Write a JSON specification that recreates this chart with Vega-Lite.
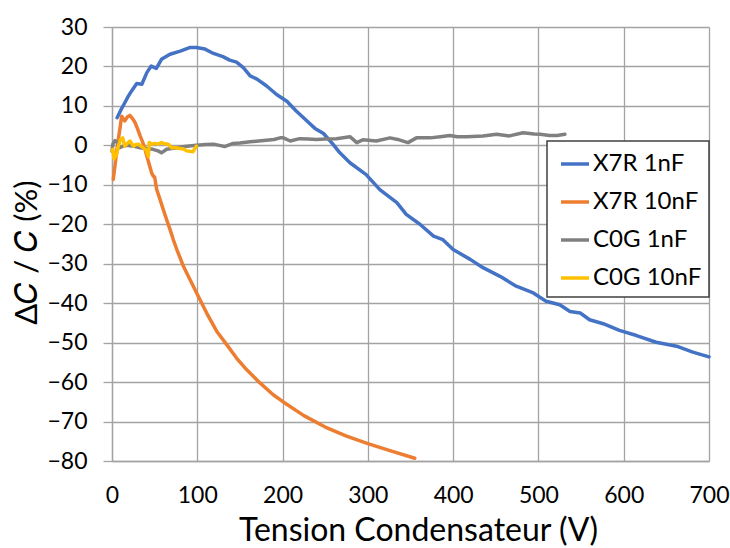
{
  "$schema": "https://vega.github.io/schema/vega-lite/v6.json",
  "width": 597,
  "height": 434,
  "autosize": {"type": "none"},
  "padding": {"left": 112, "top": 27, "right": 21, "bottom": 87},
  "background": "white",
  "config": {
    "font": "Lato",
    "view": {"stroke": null},
    "axis": {"labelColor": "#000", "titleColor": "#000", "titleFontWeight": "normal"}
  },
  "data": {"values": [
    {"s":"X7R 1nF","v":6,"d":7.0},{"s":"X7R 1nF","v":10,"d":8.8},{"s":"X7R 1nF","v":15,"d":10.8},{"s":"X7R 1nF","v":19,"d":12.4},{"s":"X7R 1nF","v":23,"d":13.8},{"s":"X7R 1nF","v":29,"d":15.7},{"s":"X7R 1nF","v":35,"d":15.5},{"s":"X7R 1nF","v":41,"d":18.5},{"s":"X7R 1nF","v":46,"d":20.1},{"s":"X7R 1nF","v":52,"d":19.5},{"s":"X7R 1nF","v":58,"d":21.8},{"s":"X7R 1nF","v":68,"d":23.1},{"s":"X7R 1nF","v":80,"d":23.9},{"s":"X7R 1nF","v":91,"d":24.8},{"s":"X7R 1nF","v":99,"d":24.8},{"s":"X7R 1nF","v":109,"d":24.4},{"s":"X7R 1nF","v":119,"d":23.3},{"s":"X7R 1nF","v":130,"d":22.5},{"s":"X7R 1nF","v":138,"d":21.6},{"s":"X7R 1nF","v":146,"d":21.1},{"s":"X7R 1nF","v":154,"d":19.7},{"s":"X7R 1nF","v":162,"d":17.6},{"s":"X7R 1nF","v":170,"d":16.8},{"s":"X7R 1nF","v":181,"d":15.1},{"s":"X7R 1nF","v":193,"d":12.9},{"s":"X7R 1nF","v":205,"d":11.2},{"s":"X7R 1nF","v":216,"d":8.7},{"s":"X7R 1nF","v":228,"d":6.3},{"s":"X7R 1nF","v":238,"d":4.3},{"s":"X7R 1nF","v":248,"d":3.0},{"s":"X7R 1nF","v":259,"d":0.3},{"s":"X7R 1nF","v":266,"d":-1.6},{"s":"X7R 1nF","v":279,"d":-4.4},{"s":"X7R 1nF","v":298,"d":-7.4},{"s":"X7R 1nF","v":314,"d":-11.2},{"s":"X7R 1nF","v":334,"d":-14.5},{"s":"X7R 1nF","v":345,"d":-17.5},{"s":"X7R 1nF","v":361,"d":-20.0},{"s":"X7R 1nF","v":377,"d":-23.0},{"s":"X7R 1nF","v":388,"d":-23.9},{"s":"X7R 1nF","v":400,"d":-26.4},{"s":"X7R 1nF","v":420,"d":-28.9},{"s":"X7R 1nF","v":435,"d":-31.0},{"s":"X7R 1nF","v":455,"d":-33.2},{"s":"X7R 1nF","v":474,"d":-35.7},{"s":"X7R 1nF","v":494,"d":-37.4},{"s":"X7R 1nF","v":509,"d":-39.5},{"s":"X7R 1nF","v":525,"d":-40.4},{"s":"X7R 1nF","v":537,"d":-42.1},{"s":"X7R 1nF","v":549,"d":-42.5},{"s":"X7R 1nF","v":560,"d":-44.2},{"s":"X7R 1nF","v":576,"d":-45.2},{"s":"X7R 1nF","v":595,"d":-46.9},{"s":"X7R 1nF","v":615,"d":-48.2},{"s":"X7R 1nF","v":638,"d":-49.9},{"s":"X7R 1nF","v":662,"d":-50.9},{"s":"X7R 1nF","v":681,"d":-52.4},{"s":"X7R 1nF","v":700,"d":-53.6},
    {"s":"X7R 10nF","v":1.5,"d":-8.6},{"s":"X7R 10nF","v":3.5,"d":-5.2},{"s":"X7R 10nF","v":5.5,"d":-1.5},{"s":"X7R 10nF","v":7.4,"d":1.5},{"s":"X7R 10nF","v":9.5,"d":4.5},{"s":"X7R 10nF","v":11.3,"d":7.4},{"s":"X7R 10nF","v":13,"d":6.8},{"s":"X7R 10nF","v":15,"d":6.2},{"s":"X7R 10nF","v":18,"d":7.2},{"s":"X7R 10nF","v":21,"d":7.6},{"s":"X7R 10nF","v":24,"d":6.8},{"s":"X7R 10nF","v":27,"d":5.8},{"s":"X7R 10nF","v":30,"d":4.2},{"s":"X7R 10nF","v":33,"d":2.4},{"s":"X7R 10nF","v":36,"d":0.8},{"s":"X7R 10nF","v":38.7,"d":-1.0},{"s":"X7R 10nF","v":41,"d":-2.8},{"s":"X7R 10nF","v":44.5,"d":-5.5},{"s":"X7R 10nF","v":46.5,"d":-7.0},{"s":"X7R 10nF","v":48.4,"d":-7.8},{"s":"X7R 10nF","v":50,"d":-8.0},{"s":"X7R 10nF","v":52.4,"d":-11.2},{"s":"X7R 10nF","v":56,"d":-13.5},{"s":"X7R 10nF","v":60,"d":-16.2},{"s":"X7R 10nF","v":64,"d":-18.8},{"s":"X7R 10nF","v":68,"d":-21.3},{"s":"X7R 10nF","v":72,"d":-24.0},{"s":"X7R 10nF","v":76,"d":-26.4},{"s":"X7R 10nF","v":80,"d":-28.6},{"s":"X7R 10nF","v":83.6,"d":-30.6},{"s":"X7R 10nF","v":91.4,"d":-34.0},{"s":"X7R 10nF","v":101,"d":-38.2},{"s":"X7R 10nF","v":111,"d":-42.5},{"s":"X7R 10nF","v":122.7,"d":-47.1},{"s":"X7R 10nF","v":134.5,"d":-50.5},{"s":"X7R 10nF","v":146,"d":-53.9},{"s":"X7R 10nF","v":158,"d":-56.9},{"s":"X7R 10nF","v":173.5,"d":-60.2},{"s":"X7R 10nF","v":189,"d":-63.2},{"s":"X7R 10nF","v":200,"d":-64.9},{"s":"X7R 10nF","v":225,"d":-68.5},{"s":"X7R 10nF","v":250,"d":-71.4},{"s":"X7R 10nF","v":275,"d":-73.7},{"s":"X7R 10nF","v":300,"d":-75.6},{"s":"X7R 10nF","v":325,"d":-77.3},{"s":"X7R 10nF","v":355,"d":-79.3},
    {"s":"C0G 1nF","v":0,"d":-1.5},{"s":"C0G 1nF","v":1,"d":0.3},{"s":"C0G 1nF","v":3.5,"d":1.2},{"s":"C0G 1nF","v":6,"d":0.8},{"s":"C0G 1nF","v":9,"d":-0.6},{"s":"C0G 1nF","v":13,"d":-0.2},{"s":"C0G 1nF","v":17,"d":0},{"s":"C0G 1nF","v":25,"d":-0.2},{"s":"C0G 1nF","v":33,"d":-0.6},{"s":"C0G 1nF","v":40,"d":-0.8},{"s":"C0G 1nF","v":48,"d":-1.0},{"s":"C0G 1nF","v":54,"d":-1.4},{"s":"C0G 1nF","v":58,"d":-1.9},{"s":"C0G 1nF","v":64,"d":-1.0},{"s":"C0G 1nF","v":70,"d":-0.8},{"s":"C0G 1nF","v":76,"d":-0.6},{"s":"C0G 1nF","v":85,"d":-0.3},{"s":"C0G 1nF","v":99,"d":0},{"s":"C0G 1nF","v":110,"d":0.2},{"s":"C0G 1nF","v":119,"d":0.3},{"s":"C0G 1nF","v":126,"d":0.0},{"s":"C0G 1nF","v":132,"d":-0.3},{"s":"C0G 1nF","v":142,"d":0.5},{"s":"C0G 1nF","v":150,"d":0.6},{"s":"C0G 1nF","v":162,"d":0.9},{"s":"C0G 1nF","v":172,"d":1.1},{"s":"C0G 1nF","v":181,"d":1.3},{"s":"C0G 1nF","v":190,"d":1.5},{"s":"C0G 1nF","v":197,"d":1.9},{"s":"C0G 1nF","v":201,"d":1.9},{"s":"C0G 1nF","v":209,"d":1.1},{"s":"C0G 1nF","v":220,"d":1.7},{"s":"C0G 1nF","v":230,"d":1.6},{"s":"C0G 1nF","v":240,"d":1.5},{"s":"C0G 1nF","v":250,"d":1.6},{"s":"C0G 1nF","v":263,"d":1.7},{"s":"C0G 1nF","v":279,"d":2.2},{"s":"C0G 1nF","v":287,"d":0.7},{"s":"C0G 1nF","v":294,"d":1.4},{"s":"C0G 1nF","v":310,"d":1.1},{"s":"C0G 1nF","v":326,"d":1.9},{"s":"C0G 1nF","v":335,"d":1.5},{"s":"C0G 1nF","v":347,"d":0.7},{"s":"C0G 1nF","v":357,"d":1.9},{"s":"C0G 1nF","v":373,"d":1.9},{"s":"C0G 1nF","v":385,"d":2.2},{"s":"C0G 1nF","v":396,"d":2.5},{"s":"C0G 1nF","v":405,"d":2.2},{"s":"C0G 1nF","v":416,"d":2.2},{"s":"C0G 1nF","v":435,"d":2.4},{"s":"C0G 1nF","v":451,"d":2.8},{"s":"C0G 1nF","v":466,"d":2.4},{"s":"C0G 1nF","v":482,"d":3.2},{"s":"C0G 1nF","v":495,"d":2.9},{"s":"C0G 1nF","v":502,"d":2.8},{"s":"C0G 1nF","v":513,"d":2.5},{"s":"C0G 1nF","v":522,"d":2.5},{"s":"C0G 1nF","v":531,"d":2.8},
    {"s":"C0G 10nF","v":0,"d":-1.4},{"s":"C0G 10nF","v":1,"d":-1.0},{"s":"C0G 10nF","v":2.3,"d":-3.4},{"s":"C0G 10nF","v":4,"d":-2.8},{"s":"C0G 10nF","v":5.5,"d":-2.3},{"s":"C0G 10nF","v":7.4,"d":-0.2},{"s":"C0G 10nF","v":10,"d":1.5},{"s":"C0G 10nF","v":12.5,"d":1.9},{"s":"C0G 10nF","v":15,"d":-0.2},{"s":"C0G 10nF","v":19,"d":0.7},{"s":"C0G 10nF","v":21,"d":1.1},{"s":"C0G 10nF","v":25,"d":-0.2},{"s":"C0G 10nF","v":28,"d":0.2},{"s":"C0G 10nF","v":31,"d":0.3},{"s":"C0G 10nF","v":34,"d":-0.2},{"s":"C0G 10nF","v":36.7,"d":-0.6},{"s":"C0G 10nF","v":40,"d":-1.2},{"s":"C0G 10nF","v":42.6,"d":-2.8},{"s":"C0G 10nF","v":43.7,"d":0.7},{"s":"C0G 10nF","v":47,"d":0.3},{"s":"C0G 10nF","v":50.4,"d":0.5},{"s":"C0G 10nF","v":54,"d":0.3},{"s":"C0G 10nF","v":58,"d":0.7},{"s":"C0G 10nF","v":62,"d":0.4},{"s":"C0G 10nF","v":66,"d":0.3},{"s":"C0G 10nF","v":70,"d":-0.6},{"s":"C0G 10nF","v":75,"d":-0.6},{"s":"C0G 10nF","v":80,"d":-0.8},{"s":"C0G 10nF","v":84,"d":-0.9},{"s":"C0G 10nF","v":87.5,"d":-1.4},{"s":"C0G 10nF","v":95,"d":-1.6},{"s":"C0G 10nF","v":99,"d":-0.2}
  ]},
  "mark": {"type": "line", "strokeWidth": 3.5, "strokeCap": "round", "strokeJoin": "round"},
  "encoding": {
    "x": {
      "field": "v", "type": "quantitative",
      "scale": {"domain": [0, 700], "nice": false},
      "axis": {
        "title": "Tension Condensateur (V)",
        "values": [0, 100, 200, 300, 400, 500, 600, 700],
        "grid": true, "gridColor": "#a3a3a3", "gridWidth": 1.3,
        "domainColor": "#a3a3a3", "domainWidth": 1.3,
        "ticks": false,
        "labelFontSize": 23, "labelPadding": 34, "labelBaseline": "middle",
        "labelFlush": false,
        "titleFontSize": 32, "titleX": 306, "titleY": 69, "titleBaseline": "middle", "titleAlign": "center"
      }
    },
    "y": {
      "field": "d", "type": "quantitative",
      "scale": {"domain": [-80, 30], "nice": false},
      "axis": {
        "title": "Δ𝐶 / 𝐶 (%)",
        "values": [-80, -70, -60, -50, -40, -30, -20, -10, 0, 10, 20, 30],
        "grid": true, "gridColor": "#a3a3a3", "gridWidth": 1.3,
        "domainColor": "#a3a3a3", "domainWidth": 1.3,
        "ticks": true, "tickSize": 9, "tickColor": "#a3a3a3", "tickWidth": 1.3,
        "labelFontSize": 23, "labelPadding": 16, "labelFlush": false,
        "titleFontSize": 31, "titleX": -85, "titleY": 225, "titleAngle": -90, "titleBaseline": "middle", "titleAlign": "center"
      }
    },
    "color": {
      "field": "s", "type": "nominal",
      "scale": {"domain": ["X7R 1nF", "X7R 10nF", "C0G 1nF", "C0G 10nF"], "range": ["#4472C4", "#ED7D31", "#808080", "#FFC000"]},
      "legend": {
        "title": null, "orient": "none", "legendX": 435, "legendY": 114,
        "fillColor": "white", "strokeColor": "#404040",
        "padding": 7, "rowPadding": 10, "symbolOffset": 5,
        "symbolType": "stroke", "symbolSize": 784, "symbolStrokeWidth": 3.5,
        "labelFontSize": 24, "labelOffset": 2, "labelColor": "#000",
        "encode": {"legend": {"update": {"strokeWidth": {"value": 1.5}}}}
      }
    }
  }
}
